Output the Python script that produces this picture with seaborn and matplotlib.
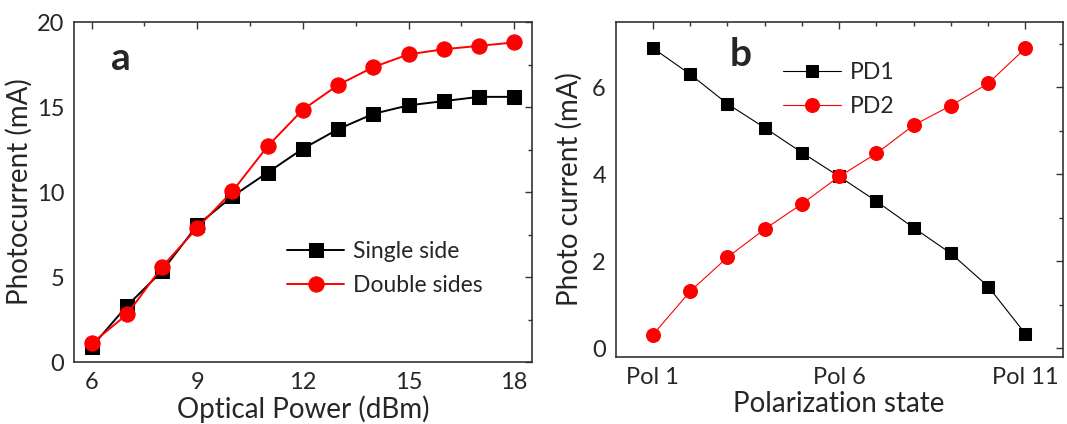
"""
Photocurrent vs optical power, and PD currents vs polarization state.
"""
import numpy as np
import pandas as pd
import seaborn as sns
import matplotlib.pyplot as plt
from matplotlib.ticker import MultipleLocator, FixedLocator

# panel a
power_dbm = [6, 7, 8, 9, 10, 11, 12, 13, 14, 15, 16, 17, 18]
single_side = [0.9, 3.3, 5.35, 8.05, 9.75, 11.15, 12.55, 13.7, 14.6, 15.1, 15.35, 15.6, 15.6]
double_sides = [1.1, 2.8, 5.6, 7.9, 10.05, 12.7, 14.85, 16.3, 17.35, 18.1, 18.4, 18.6, 18.8]

# panel b
pol_index = [1, 2, 3, 4, 5, 6, 7, 8, 9, 10, 11]
pd1 = [6.9, 6.3, 5.62, 5.07, 4.5, 3.95, 3.38, 2.77, 2.18, 1.42, 0.33]
pd2 = [0.31, 1.31, 2.09, 2.74, 3.32, 3.95, 4.48, 5.13, 5.58, 6.09, 6.9]
pol_ticks = [1, 6, 11]
pol_labels = ["Pol 1", "Pol 6", "Pol 11"]


def style_axes(ax):
    for s in ax.spines.values():
        s.set_visible(True)
        s.set_color("#333333")
        s.set_linewidth(1.2)
    ax.tick_params(which="both", direction="in", top=True, right=True,
                   color="#333333", width=1.0)
    ax.tick_params(which="major", length=5, labelsize=17, pad=7)
    ax.tick_params(which="minor", length=3)


def main():
    sns.set_style("white")
    plt.rcParams["font.family"] = ["Lato", "DejaVu Sans"]

    fig = plt.figure(figsize=(10.67, 4.24), dpi=100)
    ax1 = fig.add_axes([0.0694, 0.146, 0.429, 0.802])
    ax2 = fig.add_axes([0.577, 0.158, 0.419, 0.790])

    # a
    sns.lineplot(x=power_dbm, y=single_side, ax=ax1, color="black", marker="s",
                 markersize=10, markeredgecolor="black", linewidth=1.4,
                 label="Single side")
    sns.lineplot(x=power_dbm, y=double_sides, ax=ax1, color="red", marker="o",
                 markersize=11, markeredgecolor="red", linewidth=1.4,
                 label="Double sides")
    ax1.set_xlim(5.5, 18.5)
    ax1.set_ylim(0, 20)
    ax1.xaxis.set_major_locator(MultipleLocator(3))
    ax1.xaxis.set_minor_locator(MultipleLocator(1.5))
    ax1.yaxis.set_major_locator(MultipleLocator(5))
    ax1.yaxis.set_minor_locator(MultipleLocator(2.5))
    style_axes(ax1)
    ax1.set_xlabel("Optical Power (dBm)", fontsize=20, labelpad=2)
    ax1.set_ylabel("Photocurrent (mA)", fontsize=20, labelpad=3)
    ax1.text(0.08, 0.86, "a", transform=ax1.transAxes, fontsize=28,
             fontweight="bold")
    ax1.legend(loc="upper left", bbox_to_anchor=(0.465, 0.355), frameon=False,
               fontsize=16.5, handlelength=2.5, handletextpad=0.4,
               labelspacing=0.55, borderaxespad=0, borderpad=0)

    # b
    sns.lineplot(x=pol_index, y=pd1, ax=ax2, color="black", marker="s",
                 markersize=9, markeredgecolor="black", linewidth=0.8,
                 label="PD1")
    sns.lineplot(x=pol_index, y=pd2, ax=ax2, color="red", marker="o",
                 markersize=10, markeredgecolor="red", linewidth=0.8,
                 label="PD2")
    ax2.set_xlim(0, 12)
    ax2.set_ylim(-0.2, 7.5)
    ax2.xaxis.set_major_locator(FixedLocator(pol_ticks))
    ax2.set_xticklabels(pol_labels)
    ax2.xaxis.set_minor_locator(FixedLocator(pol_index))
    ax2.yaxis.set_major_locator(MultipleLocator(2))
    ax2.yaxis.set_minor_locator(MultipleLocator(1))
    style_axes(ax2)
    ax2.set_xlabel("Polarization state", fontsize=20, labelpad=2)
    ax2.set_ylabel("Photo current (mA)", fontsize=20, labelpad=7)
    ax2.text(0.255, 0.87, "b", transform=ax2.transAxes, fontsize=28,
             fontweight="bold")
    ax2.legend(loc="upper left", bbox_to_anchor=(0.375, 0.88), frameon=False,
               fontsize=16.5, handlelength=2.5, handletextpad=0.4,
               labelspacing=0.55, borderaxespad=0, borderpad=0)

    fig.savefig("out.png", dpi=100)


if __name__ == "__main__":
    main()
